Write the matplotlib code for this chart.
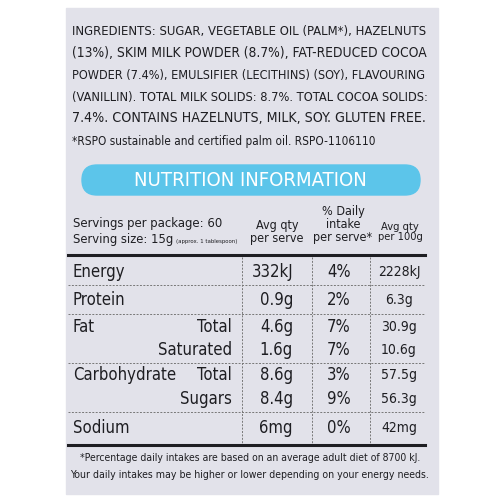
import matplotlib
matplotlib.use("Agg")
import matplotlib.pyplot as plt
from matplotlib.patches import FancyBboxPatch, Rectangle

plt.rcParams['font.family'] = ['DejaVu Sans']
plt.rcParams['font.stretch'] = 'condensed'

nutrients = ["Energy", "Protein", "Fat", "", "Carbohydrate", "", "Sodium"]
sublabels = ["", "", "Total", "Saturated", "Total", "Sugars", ""]
per_serve = ["332kJ", "0.9g", "4.6g", "1.6g", "8.6g", "8.4g", "6mg"]
daily = ["4%", "2%", "7%", "7%", "3%", "9%", "0%"]
per_100g = ["2228kJ", "6.3g", "30.9g", "10.6g", "57.5g", "56.3g", "42mg"]
row_y = [272, 300, 327, 350, 375, 399, 428]
sep_y = [285, 314, 363, 412]

ingredients = [
    "INGREDIENTS: SUGAR, VEGETABLE OIL (PALM*), HAZELNUTS",
    "(13%), SKIM MILK POWDER (8.7%), FAT-REDUCED COCOA",
    "POWDER (7.4%), EMULSIFIER (LECITHINS) (SOY), FLAVOURING",
    "(VANILLIN). TOTAL MILK SOLIDS: 8.7%. TOTAL COCOA SOLIDS:",
    "7.4%. CONTAINS HAZELNUTS, MILK, SOY. GLUTEN FREE.",
    "*RSPO sustainable and certified palm oil. RSPO-1106110",
]
ing_y = [32, 53, 75, 97, 118, 142]
ing_w = [356, 356, 356, 356, 356, 302]

fig = plt.figure(figsize=(5, 5), dpi=100)
ax = fig.add_axes([0, 0, 1, 1])
ax.set_xlim(0, 500); ax.set_ylim(500, 0); ax.axis('off')
renderer = fig.canvas.get_renderer()
ink = '#1e1e22'

def fit(t, width, maxsize):
    t.set_fontsize(maxsize)
    w = t.get_window_extent(renderer).width
    if w > width:
        t.set_fontsize(maxsize * width / w)
    return t

ax.add_patch(Rectangle((66, 8), 372, 486, color='#e2e2ea', zorder=0))
for t, y, w in zip(ingredients, ing_y, ing_w):
    fit(ax.text(72, y, t, color=ink, va='center', ha='left'), w, 14)
ax.add_patch(FancyBboxPatch((82, 165), 338, 30, boxstyle="round,pad=0,rounding_size=15",
                            color='#5cc5ea', zorder=1))
fit(ax.text(250, 180, "NUTRITION INFORMATION", color='white', ha='center',
        va='center', zorder=2), 235, 16)
fit(ax.text(73, 223, "Servings per package: 60", color=ink, va='center'), 150, 12)
fit(ax.text(73, 240, "Serving size: 15g", color=ink, va='center'), 100, 12)
fit(ax.text(176, 241, "(approx. 1 tablespoon)", color=ink, va='center'), 62, 7)
ax.text(277, 232, "Avg qty\nper serve", fontsize=9, color=ink, ha='center', va='center', linespacing=1.0)
ax.text(343, 225, "% Daily\nintake\nper serve*", fontsize=9, color=ink, ha='center', va='center', linespacing=1.0)
ax.text(400, 232, "Avg qty\nper 100g", fontsize=8, color=ink, ha='center', va='center', linespacing=1.0)
ax.plot([68, 425], [255, 255], color=ink, lw=2.2)
ax.plot([68, 425], [445, 445], color=ink, lw=2.2)
for y in sep_y:
    ax.plot([68, 425], [y, y], color='#777', lw=0.7, ls=(0, (2, 1.5)))
for x in [242, 312, 370]:
    ax.plot([x, x], [257, 443], color='#777', lw=0.7, ls=(0, (2, 1.5)))
for i, y in enumerate(row_y):
    ax.text(73, y, nutrients[i], fontsize=12, color=ink, va='center')
    ax.text(232, y, sublabels[i], fontsize=12, color=ink, va='center', ha='right')
    ax.text(293, y, per_serve[i], fontsize=12, color=ink, va='center', ha='right')
    ax.text(351, y, daily[i], fontsize=12, color=ink, va='center', ha='right')
    ax.text(399, y, per_100g[i], fontsize=10, color=ink, va='center', ha='center')
fit(ax.text(250, 458, "*Percentage daily intakes are based on an average adult diet of 8700 kJ.",
        color=ink, ha='center', va='center'), 340, 10)
fit(ax.text(250, 475, "Your daily intakes may be higher or lower depending on your energy needs.",
        color=ink, ha='center', va='center'), 358, 10)
fig.savefig("out.png", dpi=100)
